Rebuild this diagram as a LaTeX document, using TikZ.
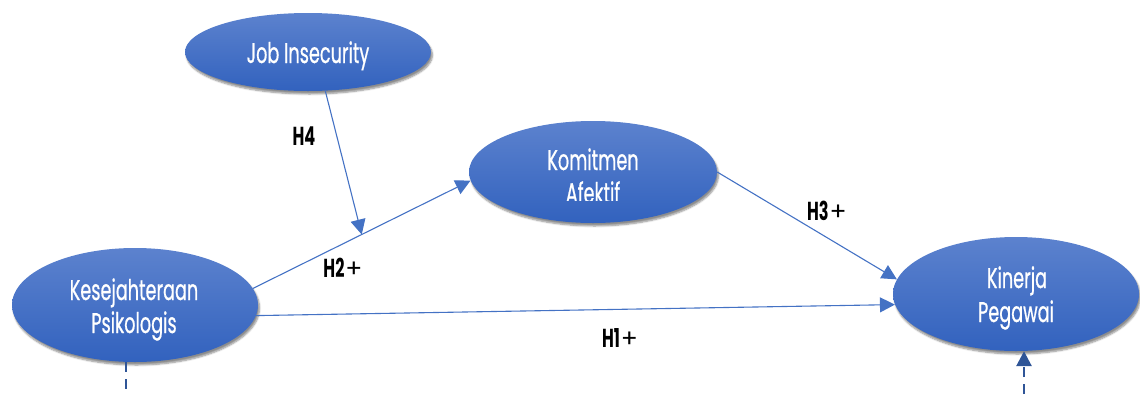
\documentclass[tikz,border=0pt]{standalone}
\usepackage{fontspec}
\newfontfamily\twc[FakeStretch=0.62, FakeBold=0.6]{Poppins}
\newfontfamily\twb[FakeStretch=0.62]{Poppins}
\newfontfamily\plusfont{Poppins}
\usetikzlibrary{arrows.meta,shapes.geometric,shadows.blur}
\definecolor{ellA}{RGB}{92,130,206}
\definecolor{ellB}{RGB}{50,98,190}
\definecolor{arrc}{RGB}{68,114,196}
\definecolor{dshc}{RGB}{47,85,151}
\tikzset{
  var/.style={ellipse, inner sep=0pt, draw=none, top color=ellA, bottom color=ellB,
    blur shadow={shadow xshift=1.5pt, shadow yshift=-3pt, shadow blur steps=6, shadow opacity=45}},
  vtxt/.style={anchor=base, inner sep=0pt, text=white, font=\twc\fontsize{28.5}{33}\selectfont},
  hyp/.style={draw=arrc, line width=1.1pt, -{Triangle[width=15pt,length=15pt]}},
  lab/.style={anchor=base, inner sep=0pt, text=black, font=\twb\bfseries\fontsize{26}{28}\selectfont},
  dashln/.style={draw=dshc, line width=2.8pt, dash pattern=on 10pt off 7pt},
}
\newcommand{\pl}{\hspace{1pt}{\plusfont\mdseries\fontsize{25}{28}\selectfont +}}
\begin{document}
\begin{tikzpicture}[x=1pt,y=-1pt]
\useasboundingbox (0,0) rectangle (1140,394);
% ellipses
\node[var, minimum width=246pt, minimum height=78pt] (ji) at (308,52) {};
\node[var, minimum width=248pt, minimum height=102pt] (ka) at (593,172) {};
\node[var, minimum width=246pt, minimum height=114pt] (ks) at (135,305) {};
\node[var, minimum width=246pt, minimum height=114pt] (kp) at (1016,294) {};
% texts
\node[vtxt] (jit) at (308,63) {Job Insecurity};
\node[vtxt] (kat1) at (593,170) {Komitmen};
\begin{scope}
  \clip (469,100) rectangle (717,200);
  \node[vtxt] (kat2) at (593,203) {Afektif};
\end{scope}
\node[vtxt] (kst1) at (134,300) {Kesejahteraan};
\node[vtxt] (kst2) at (134,333) {Psikologis};
\node[vtxt] (kpt1) at (1017,288) {Kinerja};
\node[vtxt] (kpt2) at (1016,322) {Pegawai};
% connectors
\draw[hyp] (ks.8) -- (ka.184) coordinate[pos=0.5] (mid);
\draw[hyp] (ji.-66) -- (mid);
\draw[hyp] (ka.east) -- (kp.173);
\draw[hyp] (ks.-5) -- (kp.185);
% dashed error lines
\coordinate (e1) at (126,394);
\coordinate (e2) at (1024,394);
\draw[dashln] (e1 |- ks.south) -- (e1);
\draw[dashln, -{Triangle[width=15pt,length=15pt]}] (e2) -- (e2 |- kp.south);
% labels
\node[lab] (h4) at (304,145) {H4};
\node[lab] (h2) at (343,277) {H2\pl};
\node[lab] (h3) at (827,220) {H3\pl};
\node[lab] (h1) at (620,347) {H1\pl};
\end{tikzpicture}
\end{document}
